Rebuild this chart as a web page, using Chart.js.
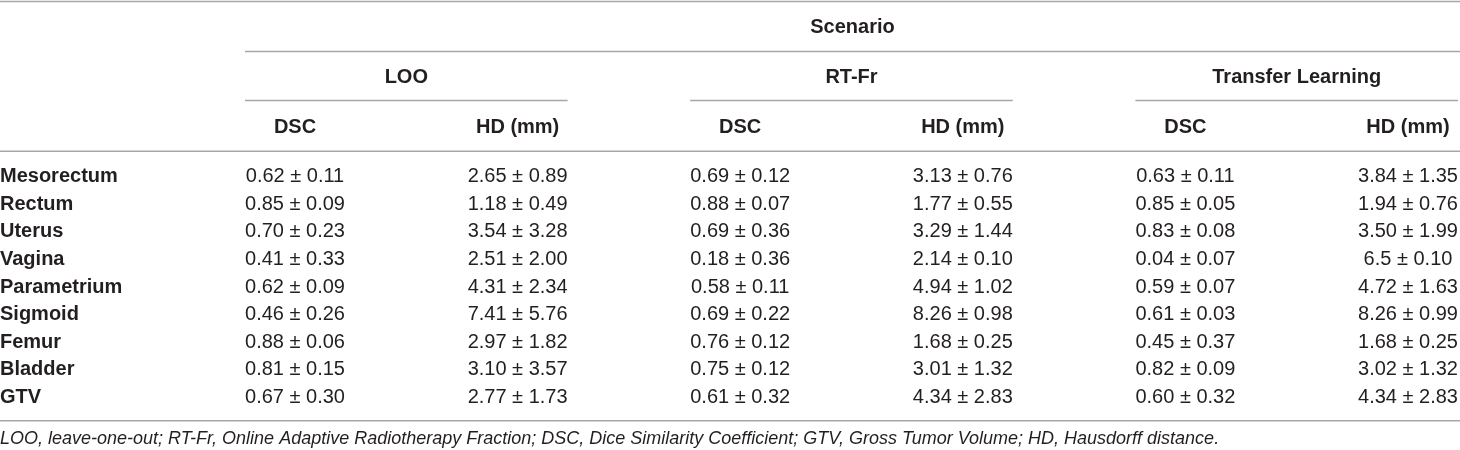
<!DOCTYPE html>
<html>
<head>
<meta charset="utf-8">
<script src="https://cdn.jsdelivr.net/npm/chart.js@4.4.1/dist/chart.umd.min.js"></script>
<style>
  html, body { margin: 0; background: #fff; }
  #wrap { width: 1460px; height: 450px; }
</style>
</head>
<body>
<div id="wrap"><canvas id="segTable"></canvas></div>
<script>
const organs = ["Mesorectum", "Rectum", "Uterus", "Vagina", "Parametrium", "Sigmoid", "Femur", "Bladder", "GTV"];
const scenarios = ["LOO", "RT-Fr", "Transfer Learning"];
const metrics = ["DSC", "HD (mm)", "DSC", "HD (mm)", "DSC", "HD (mm)"];

// mean / sd as printed in the table
const looDscMean = ["0.62", "0.85", "0.70", "0.41", "0.62", "0.46", "0.88", "0.81", "0.67"];
const looDscSd   = ["0.11", "0.09", "0.23", "0.33", "0.09", "0.26", "0.06", "0.15", "0.30"];
const looHdMean  = ["2.65", "1.18", "3.54", "2.51", "4.31", "7.41", "2.97", "3.10", "2.77"];
const looHdSd    = ["0.89", "0.49", "3.28", "2.00", "2.34", "5.76", "1.82", "3.57", "1.73"];
const rtDscMean  = ["0.69", "0.88", "0.69", "0.18", "0.58", "0.69", "0.76", "0.75", "0.61"];
const rtDscSd    = ["0.12", "0.07", "0.36", "0.36", "0.11", "0.22", "0.12", "0.12", "0.32"];
const rtHdMean   = ["3.13", "1.77", "3.29", "2.14", "4.94", "8.26", "1.68", "3.01", "4.34"];
const rtHdSd     = ["0.76", "0.55", "1.44", "0.10", "1.02", "0.98", "0.25", "1.32", "2.83"];
const tlDscMean  = ["0.63", "0.85", "0.83", "0.04", "0.59", "0.61", "0.45", "0.82", "0.60"];
const tlDscSd    = ["0.11", "0.05", "0.08", "0.07", "0.07", "0.03", "0.37", "0.09", "0.32"];
const tlHdMean   = ["3.84", "1.94", "3.50", "6.5", "4.72", "8.26", "1.68", "3.02", "4.34"];
const tlHdSd     = ["1.35", "0.76", "1.99", "0.10", "1.63", "0.99", "0.25", "1.32", "2.83"];

const footnote = "LOO, leave-one-out; RT-Fr, Online Adaptive Radiotherapy Fraction; DSC, Dice Similarity Coefficient; GTV, Gross Tumor Volume; HD, Hausdorff distance.";

const columns = [
  [looDscMean, looDscSd], [looHdMean, looHdSd],
  [rtDscMean, rtDscSd], [rtHdMean, rtHdSd],
  [tlDscMean, tlDscSd], [tlHdMean, tlHdSd]
];
// unique keys for the x category scale (metric names repeat per scenario)
const colKeys = metrics.map((m, c) => scenarios[Math.floor(c / 2)] + " " + m);

const FONT = "'Liberation Sans', Arial, Helvetica, sans-serif";
const INK = "#231f20";
const RULE = "#a7a7a7";

const datasets = columns.map(([means, sds], c) => ({
  label: colKeys[c],
  data: organs.map(o => ({ x: colKeys[c], y: o })),
  cells: means.map((m, i) => m + " \u00b1 " + sds[i]),
  showLine: false,
  pointRadius: 0,
  pointHoverRadius: 0
}));

const tablePlugin = {
  id: "tableText",
  afterDraw(chart) {
    const { ctx, scales: { x, y }, width } = chart;
    const half = 50; // half the width of a value cell
    const hline = (yy, x0, x1) => {
      ctx.beginPath();
      ctx.moveTo(x0, yy + 0.5);
      ctx.lineTo(x1, yy + 0.5);
      ctx.stroke();
    };
    ctx.save();
    ctx.strokeStyle = RULE;
    ctx.lineWidth = 1.5;

    // rules
    const firstRow = y.getPixelForValue(0);
    const lastRow = y.getPixelForValue(organs.length - 1);
    hline(1, 0, width);
    hline(51, x.getPixelForValue(0) - half, width);
    scenarios.forEach((s, g) => {
      hline(100, x.getPixelForValue(2 * g) - half, Math.min(width, x.getPixelForValue(2 * g + 1) + half));
    });
    hline(firstRow - 26, 0, width);
    hline(lastRow + 23, 0, width);

    // headers
    ctx.fillStyle = INK;
    ctx.textBaseline = "middle";
    ctx.textAlign = "center";
    ctx.font = "bold 20px " + FONT;
    ctx.fillText("Scenario", (x.getPixelForValue(0) - half + width) / 2, 27);
    scenarios.forEach((s, g) => {
      ctx.fillText(s, (x.getPixelForValue(2 * g) + x.getPixelForValue(2 * g + 1)) / 2, 77);
    });
    metrics.forEach((m, c) => ctx.fillText(m, x.getPixelForValue(c), 127));

    // cells
    ctx.font = "20px " + FONT;
    chart.data.datasets.forEach((ds, c) => {
      chart.getDatasetMeta(c).data.forEach((pt, i) => {
        ctx.fillText(ds.cells[i], pt.x, pt.y);
      });
    });

    // footnote
    ctx.textAlign = "left";
    ctx.font = "italic 18px " + FONT;
    ctx.fillText(footnote, 0, lastRow + 42);
    ctx.restore();
  }
};

new Chart(document.getElementById("segTable"), {
  type: "line",
  data: { labels: colKeys, datasets },
  options: {
    responsive: true,
    maintainAspectRatio: false,
    animation: false,
    events: [],
    layout: { padding: { top: 163, bottom: 39, left: 0, right: 52 } },
    plugins: { legend: { display: false }, tooltip: { enabled: false } },
    scales: {
      x: { type: "category", labels: colKeys, offset: false, display: false },
      y: {
        type: "category",
        labels: organs,
        offset: true,
        grid: { display: false, drawTicks: false },
        border: { display: false },
        afterFit: s => { s.width = 295; },
        ticks: {
          crossAlign: "far",
          padding: 0,
          color: INK,
          font: { family: FONT, size: 20, weight: "bold" }
        }
      }
    }
  },
  plugins: [tablePlugin]
});
</script>
</body>
</html>
